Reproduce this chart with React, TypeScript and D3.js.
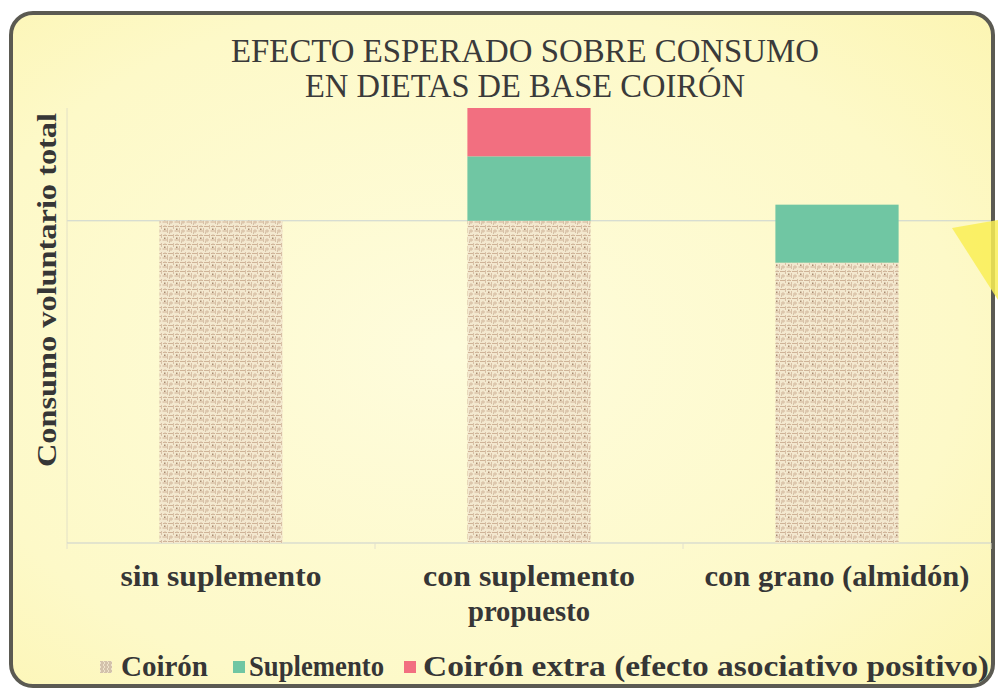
import React from "react";
import * as d3 from "d3";

const categories = ["sin suplemento", "con suplemento|propuesto", "con grano (almidón)"];
const seriesNames = ["Coirón", "Suplemento", "Coirón extra (efecto asociativo positivo)"];
const coironValues = [100, 100, 87];
const suplementoValues = [0, 20, 18];
const extraValues = [0, 15, 0];
const gridTicks = [100];
const titleLines = ["EFECTO ESPERADO SOBRE CONSUMO", "EN DIETAS DE BASE COIRÓN"];
const yAxisTitle = "Consumo voluntario total";

const W = 998;
const H = 691;
const plot = { left: 67, right: 991, top: 108, bottom: 543 };
const FONT = '"Liberation Serif", "Times New Roman", "DejaVu Serif", serif';
const GREEN = "#70c6a3";
const PINK = "#f26f80";
const TEXT = "#363636";

export default function App() {
  const x = d3.scaleBand<string>().domain(categories).range([plot.left, plot.right]).paddingInner(0.6).paddingOuter(0.3);
  const y = d3.scaleLinear().domain([0, 135]).range([plot.bottom, plot.top]);
  const data = categories.map((c, i) => ({
    cat: c,
    Coirón: coironValues[i],
    Suplemento: suplementoValues[i],
    Extra: extraValues[i],
  }));
  const stack = d3.stack<any>().keys(["Coirón", "Suplemento", "Extra"])(data);
  const fills = ["url(#coiron)", GREEN, PINK];
  const band = d3.scaleBand<string>().domain(categories).range([plot.left, plot.right]);

  const labelWidths: Record<string, number[]> = {
    "sin suplemento": [201],
    "con suplemento|propuesto": [212, 122],
    "con grano (almidón)": [265],
  };

  const legend = [
    { name: seriesNames[0], mx: 100, tx: 121, tw: 87, fill: "url(#coironSmall)" },
    { name: seriesNames[1], mx: 233, tx: 249, tw: 135, fill: GREEN },
    { name: seriesNames[2], mx: 404, tx: 423, tw: 566, fill: PINK },
  ];

  const serif = { fontFamily: FONT };

  return (
    <svg width={W} height={H} style={{ position: "absolute", left: 0, top: 0, display: "block" }}>
      <defs>
        <radialGradient id="bg" cx="45%" cy="50%" r="80%">
          <stop offset="0%" stopColor="#fefcdc" />
          <stop offset="65%" stopColor="#fdf9c8" />
          <stop offset="100%" stopColor="#fcf4ad" />
        </radialGradient>
        <pattern id="coiron" width="12" height="9" patternUnits="userSpaceOnUse">
          <rect width="12" height="9" fill="#f3e8cf" />
          <path d="M0 1.5h5M7 1.5h4M1 6h4M6.5 6h5" stroke="#cfb397" strokeWidth="1.2" />
          <path d="M5.5 0v4M11.5 3v5M3 4v4M9 0v2" stroke="#d8c0a6" strokeWidth="1" />
          <rect x="8" y="3.5" width="1.5" height="1.5" fill="#a88a70" />
          <rect x="1" y="7.5" width="1" height="1" fill="#b99a80" />
        </pattern>
        <pattern id="coironSmall" width="4" height="4" patternUnits="userSpaceOnUse">
          <rect width="4" height="4" fill="#efe4cc" />
          <path d="M0 1h3M1 3h3" stroke="#b7a08a" strokeWidth="1" />
        </pattern>
      </defs>
      <rect x={0} y={0} width={W} height={H} fill="#ffffff" />
      <rect x={11} y={13} width={982} height={673} rx={22} ry={22} fill="url(#bg)" stroke="#5b5a52" strokeWidth={4} />
      <polygon points="952,228 998,220 998,300" fill="#f9ee55" opacity={0.85} />

      {gridTicks.map((t) => (
        <line key={t} x1={plot.left} x2={plot.right} y1={y(t)} y2={y(t)} stroke="#c9d2d2" strokeWidth={1} />
      ))}
      <line x1={plot.left} x2={plot.left} y1={plot.top} y2={plot.bottom} stroke="#e2e0c6" strokeWidth={1} />
      <line x1={plot.left} x2={plot.right} y1={plot.bottom} y2={plot.bottom} stroke="#c9cfcf" strokeWidth={1} />
      {categories.map((c) => (
        <line key={c} x1={band(c) as number} x2={band(c) as number} y1={plot.bottom} y2={plot.bottom + 6} stroke="#e2e0cc" />
      ))}
      <line x1={plot.right} x2={plot.right} y1={plot.bottom} y2={plot.bottom + 6} stroke="#e2e0cc" />

      {stack.map((s, si) => (
        <g key={si}>
          {s.map((d: any, i: number) =>
            d[1] - d[0] > 0 ? (
              <rect
                key={i}
                x={x(categories[i])}
                width={x.bandwidth()}
                y={y(d[1])}
                height={y(d[0]) - y(d[1])}
                fill={fills[si]}
              />
            ) : null
          )}
        </g>
      ))}

      {titleLines.map((t, i) => (
        <text
          key={t}
          x={W / 2 + 26}
          y={62 + i * 35}
          textAnchor="middle"
          style={serif}
          fontSize={33}
          fill="#3a3a3a"
          textLength={i === 0 ? 588 : 440}
          lengthAdjust="spacingAndGlyphs"
        >
          {t}
        </text>
      ))}

      <text
        transform={`translate(56, 290) rotate(-90)`}
        textAnchor="middle"
        style={serif}
        fontWeight="bold"
        fontSize={28}
        fill={TEXT}
        textLength={354}
        lengthAdjust="spacingAndGlyphs"
      >
        {yAxisTitle}
      </text>

      {categories.map((c) => {
        const cx = (x(c) as number) + x.bandwidth() / 2;
        return c.split("|").map((line, li) => (
          <text
            key={c + li}
            x={cx}
            y={586 + li * 35}
            textAnchor="middle"
            style={serif}
            fontWeight="bold"
            fontSize={29}
            fill={TEXT}
            textLength={labelWidths[c][li]}
            lengthAdjust="spacingAndGlyphs"
          >
            {line}
          </text>
        ));
      })}

      {legend.map((l) => (
        <g key={l.name}>
          <rect x={l.mx} y={661} width={12} height={12} fill={l.fill} />
          <text
            x={l.tx}
            y={676}
            style={serif}
            fontWeight="bold"
            fontSize={29}
            fill={TEXT}
            textLength={l.tw}
            lengthAdjust="spacingAndGlyphs"
          >
            {l.name}
          </text>
        </g>
      ))}
    </svg>
  );
}
